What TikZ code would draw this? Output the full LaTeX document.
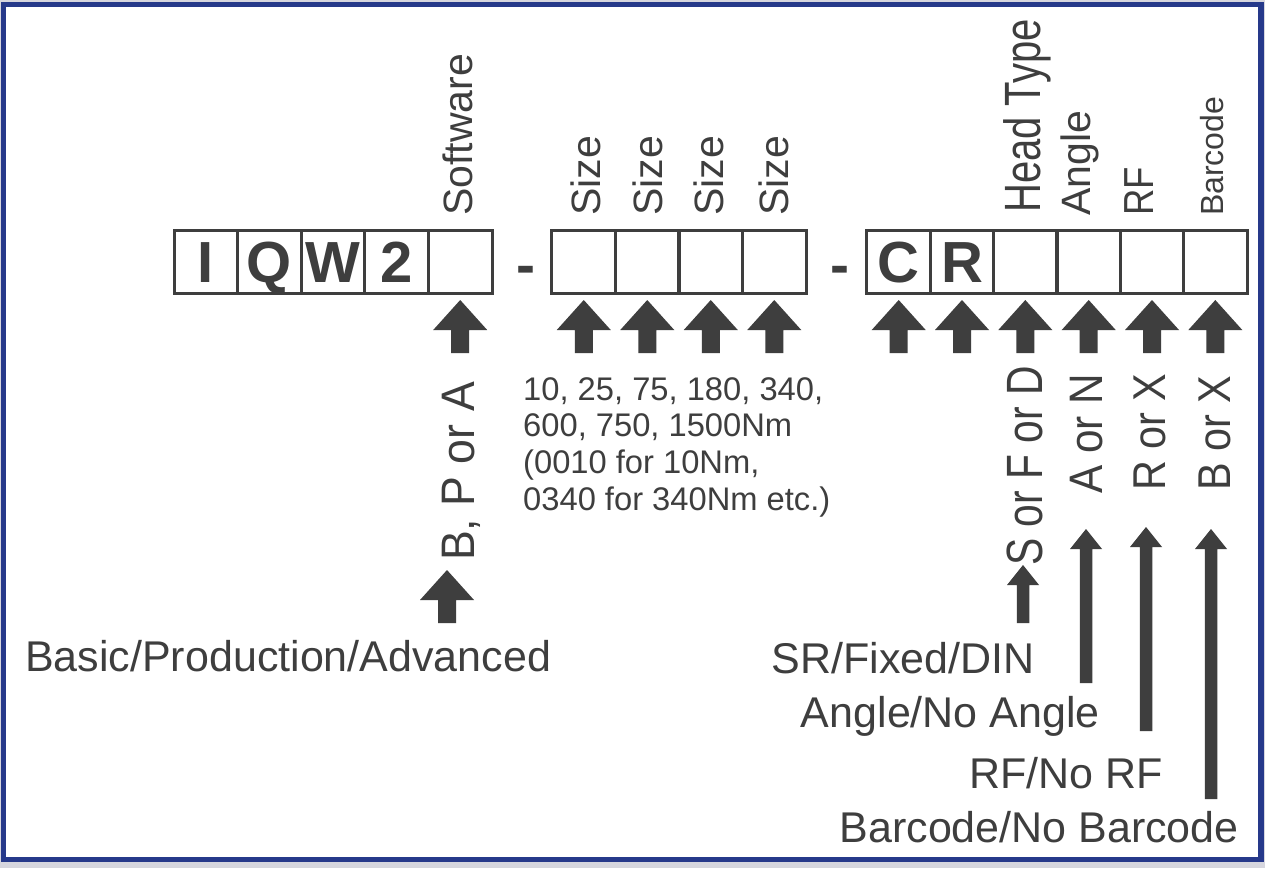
\documentclass[tikz,border=0pt]{standalone}
\usepackage{fontspec}
\setmainfont{Liberation Sans}
\usetikzlibrary{calc}
\definecolor{ink}{RGB}{62,62,62}
\definecolor{frameblue}{RGB}{38,57,138}
\definecolor{outside}{RGB}{214,214,222}
\newcommand{\fsz}[1]{\fontsize{#1}{#1}\selectfont}
\begin{document}
\begin{tikzpicture}[x=1pt,y=-1pt,
  cell/.style={draw=ink, line width=3pt, minimum width=63.6pt, minimum height=63pt,
    inner sep=0pt, outer sep=0pt, text=ink, font=\bfseries\fsz{58},
    text height=41.5pt, text depth=0pt},
  vlab/.style={rotate=90, anchor=base west, inner sep=0pt, text=ink},
  hlab/.style={anchor=base east, inner sep=0pt, text=ink, font=\fsz{43}},
  dashmark/.style={anchor=base, inner sep=0pt, text=ink, font=\bfseries\fsz{57}},
  pics/fatup/.style={code={\fill[ink] (0,0) -- (27,30) -- (9,30) -- (9,53) -- (-9,53) -- (-9,30) -- (-27,30) -- cycle;}},
  pics/thinup/.style={code={\fill[ink] (0,0) -- (16,20) -- (6.25,20) -- (6.25,#1) -- (-6.25,#1) -- (-6.25,20) -- (-16,20) -- cycle;}}]
\useasboundingbox (0,0) rectangle (1265,868);
\fill[outside] (0,0) rectangle (1265,868);
\draw[frameblue, line width=5.5pt, fill=white] (3.5,4.5) rectangle (1261,859.5);

% cells
\foreach \n/\x/\t in {c1/205.8/I, c2/269.4/Q, c3/333/W, c4/396.6/2, c5/460.2/{}}
  \node[cell] (\n) at (\x,261.5) {\t};
\foreach \n/\x in {s1/583.75, s2/647.25, s3/710.75, s4/774.25}
  \node[cell] (\n) at (\x,261.5) {};
\foreach \n/\x/\t in {h1/898.7/C, h2/962/R, h3/1025.3/{}, h4/1088.7/{}, h5/1152/{}, h6/1215.3/{}}
  \node[cell] (\n) at (\x,261.5) {\t};

\node[dashmark] (d1) at (525.5,284) {-};
\node[dashmark] (d2) at (839.5,284) {-};

% arrows below cells
\foreach \n in {c5,s1,s2,s3,s4,h1,h2,h3,h4,h5,h6}
  \pic at ($(\n.south)+(0,7)$) {fatup};

% upper labels
\node[vlab, font=\fsz{41}] (lsoft) at (472,216) {Software};
\foreach \i/\x in {1/600, 2/662, 3/723, 4/788}
  \node[vlab, font=\fsz{41}] (lsize\i) at (\x,216) {Size};
\node[vlab, font=\fsz{51}] (lhead) at (1040,213) {\scalebox{0.785}[1]{Head Type}};
\node[vlab, font=\fsz{41}] (langle) at (1090,216) {Angle};
\node[vlab, font=\fsz{42}] (lrfu) at (1153,216) {\scalebox{0.87}[1]{RF}};
\node[vlab, font=\fsz{32}] (lbaru) at (1223,216) {Barcode};

% lower vertical labels
\node[vlab, font=\fsz{47}] (lbpa) at (474,561) {\scalebox{0.95}[1]{B, P or A}};
\node[vlab, font=\fsz{51}] (lsfd) at (1042,566) {\scalebox{0.8}[1]{S or F or D}};
\node[vlab, font=\fsz{47}] (lan) at (1102,494) {\scalebox{0.9}[1]{A or N}};
\node[vlab, font=\fsz{46}] (lrx) at (1165,491) {\scalebox{0.9}[1]{R or X}};
\node[vlab, font=\fsz{46}] (lbx) at (1230,491) {\scalebox{0.9}[1]{B or X}};

% size list
\node[anchor=north west, inner sep=0pt, align=left, text=ink,
  font=\fontsize{32.7}{36.7}\selectfont] (sizes) at (523,377)
  {10, 25, 75, 180, 340,\\600, 750, 1500Nm\\(0010 for 10Nm,\\0340 for 340Nm etc.)};

% bottom horizontal labels
\node[anchor=base west, inner sep=0pt, text=ink, font=\fsz{43}] (lbasic) at (25,671) {Basic/Production/Advanced};
\node[hlab] (lsr) at (1035,673) {SR/Fixed/DIN};
\node[hlab] (lang) at (1100,727) {Angle/No Angle};
\node[hlab] (lrf) at (1163,788) {RF/No RF};
\node[hlab] (lbar) at (1239,842) {Barcode/No Barcode};

% lower arrows
\coordinate (tB) at (447,570);
\coordinate (tS) at (1023,565);
\coordinate (tA) at (1086,529);
\coordinate (tR) at (1146,527);
\coordinate (tX) at (1211,529);
\pic at (tB) {fatup};
\pic at (tS) {thinup=58};
\pic at (tA) {thinup=154};
\pic at (tR) {thinup=204};
\pic at (tX) {thinup=270};
\end{tikzpicture}
\end{document}
